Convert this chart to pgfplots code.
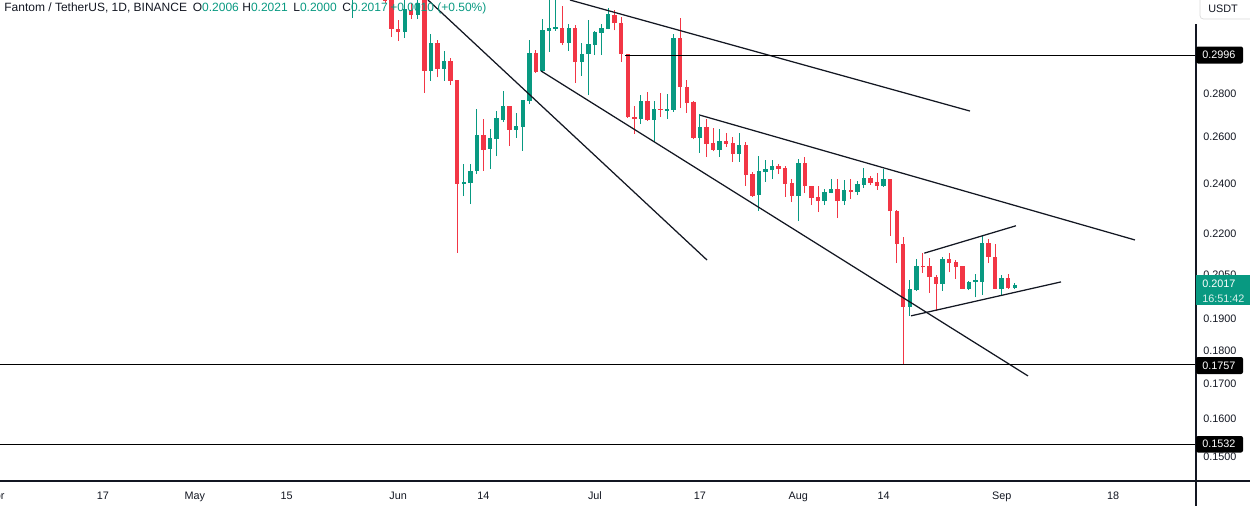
\documentclass[border=0pt]{standalone}
\usepackage{pgfplots}
\pgfplotsset{compat=1.18}
\usepackage{pgfplotstable}
\usepackage{fontspec}
\setmainfont{Liberation Sans}
\definecolor{tvgreen}{HTML}{089981}
\definecolor{tvred}{HTML}{F23645}
\definecolor{tvtext}{HTML}{131722}

% day index: 0 = 1 April 2023
\pgfplotstableread{
d o h l c
54 0.3310 0.3450 0.3194 0.3380
62 0.3117 0.3300 0.3085 0.3244
64 0.3210 0.3330 0.3188 0.3277
66 0.2916 0.3106 0.2865 0.3060
68 0.2925 0.3017 0.2865 0.2965
71 0.2399 0.2483 0.2349 0.2407
72 0.2404 0.2483 0.2317 0.2453
73 0.2453 0.2730 0.2440 0.2610
75 0.2548 0.2637 0.2461 0.2597
76 0.2592 0.2720 0.2517 0.2687
77 0.2678 0.2816 0.2669 0.2744
79 0.2633 0.2711 0.2597 0.2651
80 0.2646 0.2774 0.2539 0.2772
81 0.2767 0.3074 0.2753 0.3006
83 0.2915 0.3187 0.2912 0.3128
84 0.3124 0.3300 0.3012 0.3139
85 0.3136 0.3350 0.3125 0.3142
87 0.3058 0.3160 0.3017 0.3139
89 0.2960 0.3058 0.2890 0.3001
90 0.3001 0.3182 0.2796 0.3053
91 0.3050 0.3122 0.2996 0.3117
92 0.3113 0.3160 0.2996 0.3139
93 0.3133 0.3249 0.3131 0.3215
98 0.2683 0.2796 0.2660 0.2767
100 0.2678 0.2767 0.2579 0.2730
102 0.2722 0.2801 0.2684 0.2728
103 0.2725 0.3106 0.2716 0.3085
107 0.2598 0.2706 0.2531 0.2646
110 0.2544 0.2637 0.2514 0.2583
113 0.2527 0.2619 0.2493 0.2565
116 0.2353 0.2517 0.2290 0.2453
117 0.2448 0.2500 0.2407 0.2461
118 0.2457 0.2500 0.2419 0.2474
122 0.2349 0.2504 0.2250 0.2487
126 0.2329 0.2378 0.2313 0.2366
127 0.2362 0.2419 0.2360 0.2378
129 0.2329 0.2415 0.2313 0.2374
131 0.2366 0.2411 0.2353 0.2399
132 0.2395 0.2466 0.2382 0.2423
135 0.2390 0.2461 0.2386 0.2419
139 0.1941 0.2033 0.1911 0.2002
140 0.1998 0.2108 0.1995 0.2082
144 0.2020 0.2116 0.1996 0.2108
148 0.2003 0.2028 0.1998 0.2026
149 0.2026 0.2054 0.1973 0.2031
150 0.2026 0.2196 0.1982 0.2168
153 0.2003 0.2051 0.1979 0.2040
155 0.2006 0.2021 0.2000 0.2017
}\up

\pgfplotstableread{
d o h l c
59 0.3400 0.3450 0.3280 0.3288
60 0.3350 0.3400 0.3090 0.3134
61 0.3134 0.3182 0.3069 0.3117
63 0.3238 0.3277 0.3188 0.3210
65 0.3300 0.3350 0.2808 0.2916
67 0.3060 0.3074 0.2883 0.2925
69 0.2965 0.2980 0.2845 0.2865
70 0.2870 0.2872 0.2131 0.2399
74 0.2610 0.2683 0.2453 0.2543
78 0.2744 0.2746 0.2561 0.2633
82 0.3006 0.3022 0.2905 0.2912
86 0.3139 0.3260 0.3048 0.3058
88 0.3139 0.3155 0.2855 0.2960
94 0.3210 0.3238 0.3126 0.3166
95 0.3166 0.3198 0.2960 0.3001
96 0.3001 0.3003 0.2688 0.2692
97 0.2692 0.2744 0.2615 0.2685
99 0.2767 0.2811 0.2674 0.2678
101 0.2730 0.2806 0.2692 0.2726
104 0.3085 0.3193 0.2734 0.2835
105 0.2835 0.2870 0.2711 0.2758
106 0.2763 0.2767 0.2591 0.2598
108 0.2646 0.2683 0.2514 0.2571
109 0.2574 0.2642 0.2537 0.2544
111 0.2583 0.2619 0.2558 0.2571
112 0.2574 0.2601 0.2493 0.2527
114 0.2565 0.2579 0.2392 0.2436
115 0.2440 0.2448 0.2346 0.2349
119 0.2474 0.2483 0.2440 0.2463
120 0.2465 0.2474 0.2346 0.2400
121 0.2403 0.2419 0.2325 0.2349
123 0.2487 0.2513 0.2362 0.2390
124 0.2390 0.2391 0.2313 0.2341
125 0.2345 0.2390 0.2285 0.2329
128 0.2378 0.2419 0.2262 0.2329
130 0.2374 0.2419 0.2337 0.2366
133 0.2423 0.2432 0.2395 0.2403
134 0.2407 0.2444 0.2374 0.2390
136 0.2419 0.2421 0.2193 0.2289
137 0.2290 0.2293 0.2093 0.2163
138 0.2163 0.2191 0.1756 0.1941
141 0.2082 0.2130 0.2058 0.2078
142 0.2082 0.2111 0.1988 0.2043
143 0.2043 0.2050 0.1927 0.2020
145 0.2108 0.2130 0.2060 0.2094
146 0.2097 0.2104 0.2037 0.2080
147 0.2082 0.2084 0.2001 0.2003
151 0.2168 0.2182 0.2093 0.2116
152 0.2116 0.2164 0.2001 0.2003
154 0.2040 0.2055 0.2003 0.2004
}\down

\begin{document}
\begin{tikzpicture}[x=0.6pt,y=-0.6pt]
\useasboundingbox (0,0) rectangle (1250,506);
\begin{axis}[
  at={(0,0)}, anchor=north west,
  scale only axis, width=717.6pt, height=288.6pt,
  xmin=0.305, xmax=182.62,
  ymode=log, ymin=0.14374, ymax=0.3294,
  axis line style={draw=none},
  tick style={draw=none},
  major tick length=0pt, minor tick length=0pt,
  xtick={16,30,44,61,74,91,107,122,135,153,170},
  xticklabels={17,May,15,Jun,14,Jul,17,Aug,14,Sep,18},
  ytick={0.28,0.26,0.24,0.22,0.205,0.19,0.18,0.17,0.16,0.15},
  yticklabels={0.2800,0.2600,0.2400,0.2200,0.2050,0.1900,0.1800,0.1700,0.1600,0.1500},
  yticklabel pos=right,
  yticklabel style={anchor=west, inner sep=0pt, xshift=4.2pt, font=\fontsize{6.5}{7}\selectfont, text=tvtext},
  xticklabel style={anchor=base, inner sep=0pt, yshift=-10.8pt, font=\fontsize{6.5}{7}\selectfont, text=tvtext},
]
% wicks
\addplot[draw=none, mark=none, forget plot, error bars/.cd, y dir=plus, y explicit, error mark=none,
  error bar style={draw=tvgreen, line width=0.6pt}]
  table[x=d, y=l, y error plus expr=\thisrow{h}-\thisrow{l}] {\up};
\addplot[draw=none, mark=none, forget plot, error bars/.cd, y dir=plus, y explicit, error mark=none,
  error bar style={draw=tvred, line width=0.6pt}]
  table[x=d, y=l, y error plus expr=\thisrow{h}-\thisrow{l}] {\down};
% bodies
\addplot[draw=none, mark=none, forget plot, error bars/.cd, y dir=plus, y explicit, error mark=none,
  error bar style={draw=tvgreen, line width=2.64pt}]
  table[x=d, y=o, y error plus expr=\thisrow{c}-\thisrow{o}] {\up};
\addplot[draw=none, mark=none, forget plot, error bars/.cd, y dir=plus, y explicit, error mark=none,
  error bar style={draw=tvred, line width=2.64pt}]
  table[x=d, y=c, y error plus expr=\thisrow{o}-\thisrow{c}] {\down};
% drawings
\draw[tvtext, line width=0.75pt] (axis cs:65.55,0.3294) -- (axis cs:108.08,0.2104);
\draw[tvtext, line width=0.75pt] (axis cs:82.77,0.2915) -- (axis cs:157.01,0.1723);
\draw[tvtext, line width=0.75pt] (axis cs:87.20,0.3294) -- (axis cs:148.17,0.2720);
\draw[tvtext, line width=0.75pt] (axis cs:107.01,0.2701) -- (axis cs:173.32,0.2178);
\draw[tvtext, line width=0.75pt] (axis cs:141.20,0.2129) -- (axis cs:155.18,0.2232);
\draw[tvtext, line width=0.75pt] (axis cs:139.18,0.1911) -- (axis cs:162.04,0.2026);
\draw[black, line width=0.6pt] (axis cs:95.58,0.2996) -- (axis cs:182.62,0.2996);
\draw[black, line width=0.6pt] (axis cs:0.305,0.1757) -- (axis cs:182.62,0.1757);
\draw[black, line width=0.6pt] (axis cs:0.305,0.1532) -- (axis cs:182.62,0.1532);
\end{axis}
% cut-off month label at the left edge
\node[anchor=base, inner sep=0pt, font=\fontsize{6.5}{7}\selectfont, text=tvtext] at (-4,499) {Apr};
% frame lines
\draw[tvtext, line width=0.7pt] (0,481) -- (1250,481);
\draw[tvtext, line width=0.7pt] (1196,24) -- (1196,506);
% unit box
\draw[gray!30, fill=white, rounded corners=2pt] (1200,-6) rectangle (1256,19);
\node[font=\fontsize{6.5}{7}\selectfont, text=tvtext, inner sep=0pt] at (1223,9) {USDT};
% price labels
\fill[black, rounded corners=1.2pt] (1196,46.5) rectangle (1243,63.5);
\node[anchor=west, inner sep=0pt, font=\fontsize{6.5}{7}\selectfont, text=white] at (1202,55) {0.2996};
\fill[black, rounded corners=1.2pt] (1196,357) rectangle (1243,374);
\node[anchor=west, inner sep=0pt, font=\fontsize{6.5}{7}\selectfont, text=white] at (1202,365.5) {0.1757};
\fill[black, rounded corners=1.2pt] (1196,436) rectangle (1243,452.5);
\node[anchor=west, inner sep=0pt, font=\fontsize{6.5}{7}\selectfont, text=white] at (1202,444) {0.1532};
\fill[tvgreen] (1196,275) rectangle (1250,305);
\node[anchor=west, inner sep=0pt, font=\fontsize{6.5}{7}\selectfont, text=white] at (1202,284) {0.2017};
\node[anchor=west, inner sep=0pt, font=\fontsize{6.5}{7}\selectfont, text=white!85!tvgreen] at (1202,299) {16:51:42};
% header
\begin{scope}[every node/.style={anchor=base west, inner sep=0pt, font=\fontsize{7.2}{8}\selectfont, text=tvtext}]
\node at (4,11.5) {Fantom / TetherUS, 1D, BINANCE};
\node at (192.5,11.5) {O\textcolor{tvgreen}{0.2006}};
\node at (242,11.5) {H\textcolor{tvgreen}{0.2021}};
\node at (293,11.5) {L\textcolor{tvgreen}{0.2000}};
\node at (342,11.5) {C\textcolor{tvgreen}{0.2017}};
\node at (390,11.5) {\textcolor{tvgreen}{+0.0010 (+0.50\%)}};
\end{scope}
\end{tikzpicture}
\end{document}
